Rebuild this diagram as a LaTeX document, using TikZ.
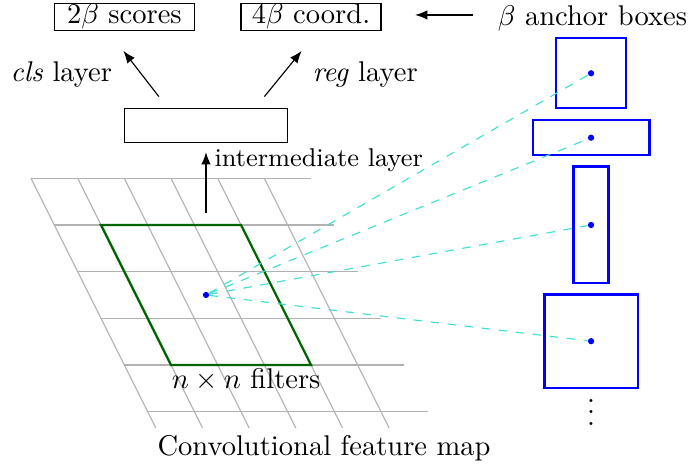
\documentclass[tikz,border=0pt]{standalone}
\usepackage{amsmath}
\usepackage{tikz}
\usetikzlibrary{positioning,arrows.meta}
\definecolor{linkcyan}{RGB}{64,224,208}
\definecolor{filtgreen}{RGB}{0,100,0}

\begin{document}
\begin{tikzpicture}[
x=0.575cm, y=0.575cm,
>={Latex[length=4.3pt,width=3.3pt]},
outbox/.style={
  draw,
  inner sep=0pt,
  minimum width=1.725cm,
  minimum height=0.33cm
  },
anchorbox/.style={draw=blue, thick, inner sep=0pt},
ctrdot/.style={circle, fill=blue, inner sep=0pt, minimum size=2.2pt},
gridline/.style={gray!60},
link/.style={linkcyan, dashed, thin}
]
\useasboundingbox (-0.664,-6.23) rectangle (14.12,3.82);
% feature map
\foreach \Row in {0,...,5}
  \draw[gridline] (0.5*\Row,-\Row) -- ++(6,0);
\foreach \Col in {0,...,5}
  \draw[gridline] (\Col,0) -- ++(2.675,-5.35);
\draw[filtgreen,thick] (1.5,-1) -- (4.5,-1) -- (6,-4) -- (3,-4) -- cycle;
\node[ctrdot] (c) at (3.75,-2.5) {};
\node[anchor=base] (filt) at (4.61,-4.5) {$n\times n$ filters};
\node[anchor=base] (fmap) at (6.28,-5.93) {Convolutional feature map};

% layers
\node[draw,inner sep=0pt,minimum width=2.0125cm,minimum height=0.4255cm] (mid) at (3.75,1.13) {};
\node[outbox] (cls) at (2,3.46) {$2\beta$ scores};
\node[outbox] (reg) at (6,3.46) {$4\beta$ coord.};
\coordinate (m0) at (3.75,-0.75);
\coordinate (m1) at (3.75,0.56);
\coordinate (c0) at (2.74,1.75);
\coordinate (c1) at (1.98,2.73);
\coordinate (r0) at (5.0,1.75);
\coordinate (r1) at (5.8,2.73);
\path[->]
(m0) edge (m1)
(c0) edge (c1)
(r0) edge (r1);
\node[anchor=base west,inner sep=0pt,font=\small] (midlbl) at (3.92,0.25) {intermediate layer};
\node[anchor=base] (clslbl) at (0.65,2.07) {\textit{cls} layer};
\node[anchor=base] (reglbl) at (7.16,2.07) {\textit{reg} layer};

% anchors
\node[anchor=base] (anclbl) at (12.03,3.28) {$\beta$ anchor boxes};
\coordinate (a0) at (9.47,3.5);
\coordinate (a1) at (8.23,3.5);
\draw[->] (a0) -- (a1);
\foreach \Name/\Y/\W/\H in {b1/2.25/0.8625/0.8625, b2/0.87/1.4375/0.43125, b3/-1/0.43125/1.4375, b4/-3.49/1.15/1.15}
{
  \node[anchorbox,minimum width=\W cm,minimum height=\H cm] (\Name) at (12,\Y) {};
  \node[ctrdot] (\Name c) at (\Name.center) {};
  \draw[link] (c) -- (\Name c);
}
\node (more) at (12,-4.83) {$\vdots$};
\end{tikzpicture}
\end{document}
